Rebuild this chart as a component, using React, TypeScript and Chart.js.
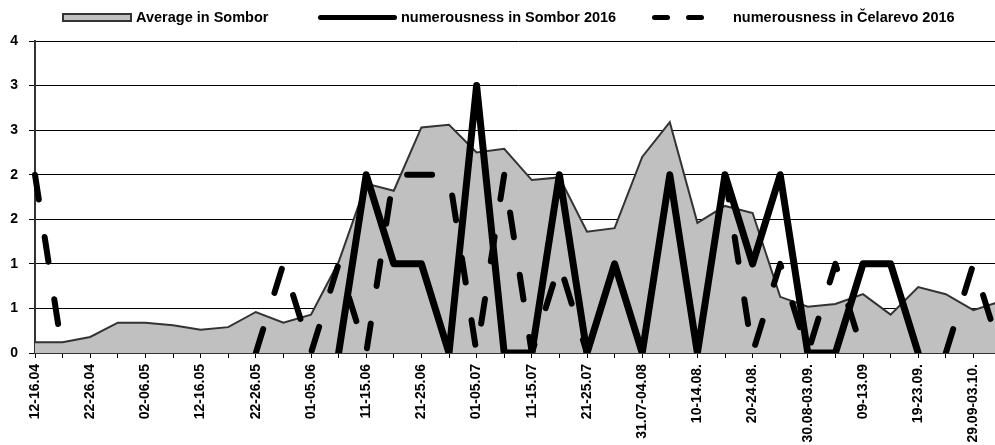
import React, { useEffect, useRef } from "react";
import { Chart, registerables } from "chart.js";

Chart.register(...registerables);

// ---- data ----
const periods: string[] = [
  "12-16.04", "17-21.04", "22-26.04", "27.04-01.05", "02-06.05", "07-11.05",
  "12-16.05", "17-21.05", "22-26.05", "27-31.05", "01-05.06", "06-10.06",
  "11-15.06", "16-20.06", "21-25.06", "26-30.06", "01-05.07", "06-10.07",
  "11-15.07", "16-20.07", "21-25.07", "26-30.07", "31.07-04.08", "05-09.08",
  "10-14.08.", "15-19.08.", "20-24.08.", "25-29.08.", "30.08-03.09.", "04-08.09.",
  "09-13.09", "14-18.09.", "19-23.09.", "24-28.09.", "29.09-03.10.", "04-08.10.",
];

const averageSombor: number[] = [
  0.12, 0.12, 0.18, 0.34, 0.34, 0.31, 0.26, 0.29, 0.46, 0.34, 0.43, 1.02,
  1.9, 1.82, 2.53, 2.56, 2.25, 2.29, 1.94, 1.97, 1.36, 1.4, 2.2, 2.59,
  1.46, 1.65, 1.57, 0.63, 0.52, 0.55, 0.66, 0.43, 0.74, 0.66, 0.48, 0.58,
];

const sombor2016: (number | null)[] = [
  null, null, null, null, null, null, null, null, null, null, null, 0,
  2, 1, 1, 0, 3, 0, 0, 2, 0, 1, 0, 2,
  0, 2, 1, 2, 0, 0, 1, 1, 0, null, null, null,
];

const celarevo2016: (number | null)[] = [
  2, 0, null, null, null, null, null, null, 0, 1, 0, 1,
  0, 2, 2, 2, 0, 2, 0, 1, 0, null, null, null,
  null, 2, 0, 1, 0, 1, 0, null, null, 0, 1, 0,
];

const yTickValues: number[] = [0, 0.5, 1, 1.5, 2, 2.5, 3, 3.5];

const seriesNames = {
  average: "Average in Sombor",
  sombor: "numerousness in Sombor 2016",
  celarevo: "numerousness in Čelarevo 2016",
};

const FONT_FAMILY = "'Liberation Sans', Arial, Helvetica, sans-serif";

export default function App() {
  const canvasRef = useRef<HTMLCanvasElement | null>(null);

  useEffect(() => {
    const canvas = canvasRef.current;
    if (!canvas) return;
    const chart = new Chart(canvas, {
      type: "line",
      data: {
        labels: periods,
        datasets: [
          {
            label: seriesNames.celarevo,
            data: celarevo2016,
            borderColor: "#000000",
            borderWidth: 6,
            borderDash: [25, 38],
            borderCapStyle: "round",
            borderJoinStyle: "round",
            pointRadius: 0,
            fill: false,
            spanGaps: false,
            tension: 0,
            order: 1,
          },
          {
            label: seriesNames.sombor,
            data: sombor2016,
            borderColor: "#000000",
            borderWidth: 7,
            borderCapStyle: "round",
            borderJoinStyle: "round",
            pointRadius: 0,
            fill: false,
            spanGaps: false,
            tension: 0,
            order: 2,
          },
          {
            label: seriesNames.average,
            data: averageSombor,
            borderColor: "#333333",
            borderWidth: 2,
            backgroundColor: "#C0C0C0",
            fill: "origin",
            pointRadius: 0,
            tension: 0,
            order: 3,
          },
        ],
      },
      options: {
        animation: false,
        responsive: false,
        devicePixelRatio: 1,
        layout: { padding: { top: 41, right: 25, left: 0, bottom: 0 } },
        plugins: {
          legend: { display: false },
          tooltip: { enabled: false },
        },
        scales: {
          x: {
            type: "category",
            offset: false,
            grid: {
              display: true,
              drawOnChartArea: false,
              drawTicks: true,
              tickLength: 5,
              color: "#000000",
              lineWidth: 1,
            },
            border: { display: true, color: "#333333", width: 2 },
            ticks: {
              autoSkip: false,
              maxRotation: 90,
              minRotation: 90,
              padding: 6,
              color: "#000000",
              font: { family: FONT_FAMILY, size: 14, weight: "bold" },
              callback: (_v: any, i: number) => (i % 2 === 0 ? periods[i] : ""),
            },
            afterFit: (s: any) => {
              s.height = 92;
            },
          },
          y: {
            min: yTickValues[0],
            max: yTickValues[yTickValues.length - 1],
            afterBuildTicks: (s: any) => {
              s.ticks = yTickValues.map((v) => ({ value: v }));
            },
            ticks: {
              padding: 11,
              color: "#000000",
              font: { family: FONT_FAMILY, size: 14, weight: "bold" },
              callback: (v: any) => String(Math.round(Number(v))),
            },
            grid: {
              color: "#000000",
              lineWidth: 1,
              drawTicks: true,
              tickLength: 6,
            },
            border: { display: true, color: "#333333", width: 2 },
            afterFit: (s: any) => {
              s.width = 35;
            },
          },
        },
      },
    } as any);
    return () => chart.destroy();
  }, []);

  const textStyle: React.CSSProperties = {
    position: "absolute",
    top: 9,
    fontFamily: FONT_FAMILY,
    fontWeight: "bold",
    fontSize: 14.5,
    lineHeight: "17px",
    color: "#000",
    whiteSpace: "nowrap",
  };

  const barStyle: React.CSSProperties = {
    position: "absolute",
    top: 15,
    height: 5,
    background: "#000",
    borderRadius: 2.5,
  };

  return (
    <div
      style={{
        position: "fixed",
        left: 0,
        top: 0,
        width: 995,
        height: 445,
        overflow: "hidden",
        background: "#ffffff",
      }}
    >
      <canvas ref={canvasRef} width={1026} height={445} style={{ display: "block" }} />
      {/* legend */}
      <div
        style={{
          position: "absolute",
          left: 62,
          top: 13,
          width: 70,
          height: 9,
          boxSizing: "border-box",
          background: "#C0C0C0",
          border: "2px solid #333333",
        }}
      />
      <div style={{ ...textStyle, left: 136 }}>{seriesNames.average}</div>
      <div style={{ ...barStyle, left: 318, width: 79 }} />
      <div style={{ ...textStyle, left: 401 }}>{seriesNames.sombor}</div>
      <div style={{ ...barStyle, left: 652, width: 18 }} />
      <div style={{ ...barStyle, left: 686, width: 18 }} />
      <div style={{ ...textStyle, left: 733 }}>{seriesNames.celarevo}</div>
    </div>
  );
}
